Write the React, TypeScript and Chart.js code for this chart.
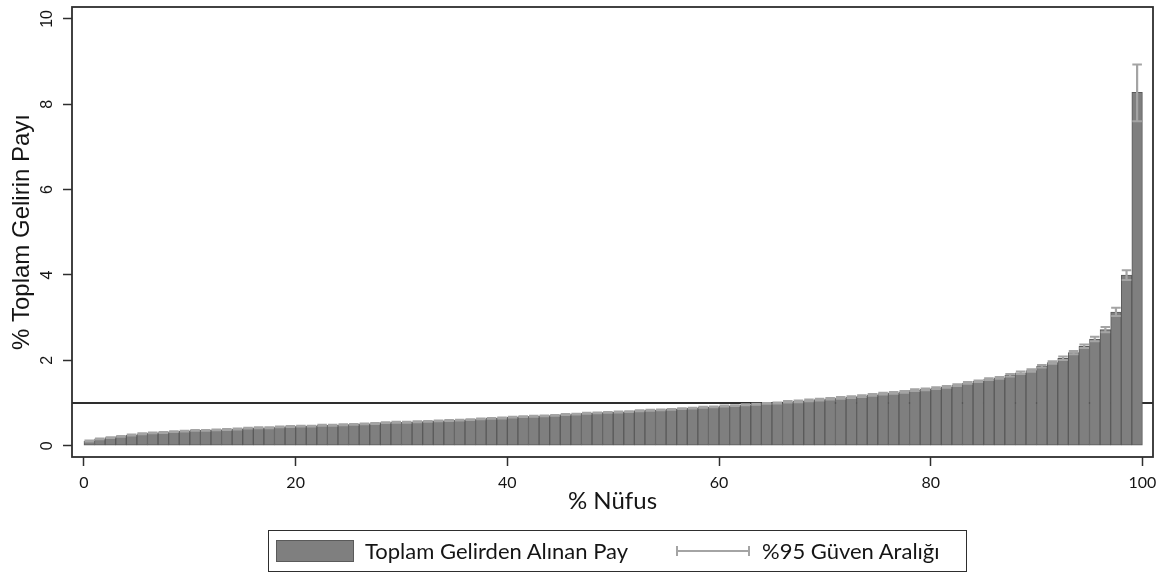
import React, { useEffect, useRef } from "react";
import { Chart, registerables } from "chart.js";

Chart.register(...registerables);

// ---------- data ----------
const percentiles: number[] = Array.from({ length: 100 }, (_, i) => i + 1);

const incomeShare: number[] = [
  0.11, 0.16, 0.19, 0.22, 0.25, 0.28, 0.30, 0.31, 0.33, 0.34,
  0.36, 0.36, 0.37, 0.38, 0.39, 0.41, 0.42, 0.42, 0.44, 0.45,
  0.46, 0.46, 0.48, 0.48, 0.49, 0.50, 0.51, 0.52, 0.54, 0.55,
  0.55, 0.56, 0.57, 0.58, 0.59, 0.60, 0.61, 0.63, 0.64, 0.65,
  0.67, 0.68, 0.69, 0.70, 0.71, 0.73, 0.74, 0.76, 0.77, 0.78,
  0.79, 0.80, 0.82, 0.83, 0.84, 0.85, 0.87, 0.88, 0.90, 0.91,
  0.93, 0.94, 0.96, 0.97, 0.99, 1.00, 1.03, 1.04, 1.06, 1.08,
  1.10, 1.12, 1.14, 1.16, 1.19, 1.22, 1.24, 1.26, 1.30, 1.32,
  1.35, 1.38, 1.42, 1.47, 1.51, 1.56, 1.59, 1.65, 1.71, 1.76,
  1.86, 1.95, 2.05, 2.18, 2.33, 2.50, 2.72, 3.13, 4.00, 8.28,
];

const ciLow: number[] = [
  0.10, 0.15, 0.18, 0.21, 0.24, 0.27, 0.29, 0.30, 0.32, 0.33,
  0.35, 0.35, 0.36, 0.37, 0.38, 0.40, 0.41, 0.41, 0.43, 0.44,
  0.45, 0.45, 0.47, 0.47, 0.48, 0.49, 0.50, 0.51, 0.53, 0.54,
  0.54, 0.55, 0.56, 0.57, 0.58, 0.59, 0.60, 0.62, 0.63, 0.64,
  0.66, 0.67, 0.68, 0.69, 0.70, 0.72, 0.73, 0.75, 0.76, 0.77,
  0.78, 0.79, 0.81, 0.82, 0.83, 0.84, 0.86, 0.87, 0.89, 0.90,
  0.92, 0.93, 0.95, 0.96, 0.98, 0.99, 1.01, 1.02, 1.04, 1.06,
  1.08, 1.10, 1.12, 1.14, 1.17, 1.20, 1.22, 1.24, 1.28, 1.30,
  1.33, 1.36, 1.40, 1.45, 1.49, 1.54, 1.57, 1.62, 1.68, 1.73,
  1.83, 1.92, 2.01, 2.14, 2.29, 2.45, 2.66, 3.04, 3.88, 7.60,
];

const ciHigh: number[] = [
  0.12, 0.17, 0.20, 0.23, 0.26, 0.29, 0.31, 0.32, 0.34, 0.35,
  0.37, 0.37, 0.38, 0.39, 0.40, 0.42, 0.43, 0.43, 0.45, 0.46,
  0.47, 0.47, 0.49, 0.49, 0.50, 0.51, 0.52, 0.53, 0.55, 0.56,
  0.56, 0.57, 0.58, 0.59, 0.60, 0.61, 0.62, 0.64, 0.65, 0.66,
  0.68, 0.69, 0.70, 0.71, 0.72, 0.74, 0.75, 0.77, 0.78, 0.79,
  0.80, 0.81, 0.83, 0.84, 0.85, 0.86, 0.88, 0.89, 0.91, 0.92,
  0.94, 0.95, 0.97, 0.98, 1.00, 1.01, 1.05, 1.06, 1.08, 1.10,
  1.12, 1.14, 1.16, 1.18, 1.21, 1.24, 1.26, 1.28, 1.32, 1.34,
  1.37, 1.40, 1.44, 1.49, 1.53, 1.58, 1.61, 1.68, 1.74, 1.79,
  1.89, 1.98, 2.09, 2.22, 2.37, 2.55, 2.78, 3.23, 4.11, 8.93,
];

const xTickValues: number[] = [0, 20, 40, 60, 80, 100];
const yTickValues: number[] = [0, 2, 4, 6, 8, 10];
const referenceLevel = 1;

const yAxisTitle = "% Toplam Gelirin Payı";
const xAxisTitle = "% Nüfus";
const legendBarLabel = "Toplam Gelirden Alınan Pay";
const legendCiLabel = "%95 Güven Aralığı";

// ---------- styling ----------
const BAR_FILL = "#7f7f7f";
const BAR_EDGE = "#5a5a5a";
const CI_COLOR = "#a4a4a4";
const FRAME = "#2e2e2e";
const TEXT = "#151515";
const SANS_A = '"Liberation Sans", Arial, sans-serif';
const SANS_B = 'Lato, "Open Sans", sans-serif';

const decorPlugin = {
  id: "decor",
  beforeDatasetsDraw(chart: any) {
    const { ctx, chartArea, scales } = chart;
    const py = scales.y.getPixelForValue(referenceLevel);
    ctx.save();
    ctx.strokeStyle = FRAME;
    ctx.lineWidth = 2;
    ctx.beginPath();
    ctx.moveTo(chartArea.left, py);
    ctx.lineTo(chartArea.right, py);
    ctx.stroke();
    ctx.restore();
  },
  afterDatasetsDraw(chart: any) {
    const { ctx, scales } = chart;
    const meta = chart.getDatasetMeta(0);
    ctx.save();
    ctx.strokeStyle = CI_COLOR;
    meta.data.forEach((bar: any, i: number) => {
      const { x, width } = bar.getProps(["x", "width"], true);
      const lo = scales.y.getPixelForValue(ciLow[i]);
      const hi = scales.y.getPixelForValue(ciHigh[i]);
      const half = width / 2 - 0.5;
      ctx.lineWidth = 2.2;
      ctx.beginPath();
      ctx.moveTo(x, lo);
      ctx.lineTo(x, hi);
      ctx.stroke();
      ctx.lineWidth = 2;
      ctx.beginPath();
      ctx.moveTo(x - half, lo);
      ctx.lineTo(x + half, lo);
      ctx.moveTo(x - half, hi);
      ctx.lineTo(x + half, hi);
      ctx.stroke();
    });
    ctx.restore();
  },
  afterDraw(chart: any) {
    const { ctx, chartArea, scales } = chart;
    ctx.save();
    // frame
    ctx.strokeStyle = FRAME;
    ctx.lineWidth = 1.8;
    ctx.strokeRect(
      chartArea.left,
      chartArea.top,
      chartArea.right - chartArea.left,
      chartArea.bottom - chartArea.top
    );
    ctx.fillStyle = TEXT;
    // x tick labels
    ctx.font = `16px ${SANS_B}`;
    ctx.textAlign = "center";
    ctx.textBaseline = "middle";
    xTickValues.forEach((v) => {
      ctx.fillText(String(v), scales.x.getPixelForValue(v), 483);
    });
    // y tick labels (rotated)
    ctx.font = `16px ${SANS_A}`;
    yTickValues.forEach((v) => {
      const py = scales.y.getPixelForValue(v);
      ctx.save();
      ctx.translate(48, py);
      ctx.rotate(-Math.PI / 2);
      ctx.fillText(String(v), 0, 0);
      ctx.restore();
    });
    // axis titles
    ctx.font = `24px ${SANS_B}`;
    ctx.fillText(xAxisTitle, (chartArea.left + chartArea.right) / 2, 501);
    ctx.save();
    ctx.font = `24px ${SANS_A}`;
    ctx.translate(22, (chartArea.top + chartArea.bottom) / 2);
    ctx.rotate(-Math.PI / 2);
    ctx.fillText(yAxisTitle, 0, 0);
    ctx.restore();
    ctx.restore();
  },
};

export default function App() {
  const canvasRef = useRef<HTMLCanvasElement>(null);

  useEffect(() => {
    const canvas = canvasRef.current;
    if (!canvas) return;
    const chart = new Chart(canvas, {
      type: "bar",
      data: {
        datasets: [
          {
            label: legendBarLabel,
            data: percentiles.map((p, i) => ({ x: p - 0.5, y: incomeShare[i] })) as any,
            backgroundColor: BAR_FILL,
            borderColor: BAR_EDGE,
            borderWidth: 1,
            borderSkipped: false,
            barPercentage: 1,
            categoryPercentage: 1,
          },
        ],
      },
      options: {
        responsive: false,
        animation: false,
        devicePixelRatio: 1,
        layout: { padding: { left: 0, top: 7, right: 5, bottom: 0 } },
        plugins: {
          legend: { display: false },
          tooltip: { enabled: false },
        },
        scales: {
          x: {
            type: "linear",
            min: -1.13,
            max: 101.0,
            offset: false,
            afterBuildTicks: (s: any) => {
              s.ticks = xTickValues.map((v) => ({ value: v }));
            },
            afterFit: (s: any) => {
              s.height = 117;
            },
            ticks: { display: false },
            grid: {
              offset: false,
              drawOnChartArea: false,
              drawTicks: true,
              tickLength: 9,
              tickColor: FRAME,
              tickWidth: 1.5,
            },
            border: { display: false },
          },
          y: {
            type: "linear",
            min: -0.265,
            max: 10.28,
            afterBuildTicks: (s: any) => {
              s.ticks = yTickValues.map((v) => ({ value: v }));
            },
            afterFit: (s: any) => {
              s.width = 72;
            },
            ticks: { display: false },
            grid: {
              drawOnChartArea: false,
              drawTicks: true,
              tickLength: 9,
              tickColor: FRAME,
              tickWidth: 1.5,
            },
            border: { display: false },
          },
        },
      } as any,
      plugins: [decorPlugin],
    });
    return () => chart.destroy();
  }, []);

  return (
    <div
      style={{
        position: "fixed",
        left: 0,
        top: 0,
        width: 1158,
        height: 574,
        background: "#ffffff",
        overflow: "hidden",
      }}
    >
      <canvas
        ref={canvasRef}
        width={1158}
        height={574}
        style={{ position: "absolute", left: 0, top: 0, width: 1158, height: 574 }}
      />
      <div
        style={{
          position: "absolute",
          left: 268,
          top: 530,
          width: 699,
          height: 42,
          boxSizing: "border-box",
          border: `1px solid ${FRAME}`,
          fontFamily: SANS_B,
          fontSize: 22,
          color: TEXT,
        }}
      >
        <div
          style={{
            position: "absolute",
            left: 7,
            top: 9,
            width: 78,
            height: 22,
            boxSizing: "border-box",
            background: BAR_FILL,
            border: `1.5px solid ${BAR_EDGE}`,
          }}
        />
        <span style={{ position: "absolute", left: 96, top: 0, lineHeight: "40px", whiteSpace: "nowrap" }}>
          {legendBarLabel}
        </span>
        <div style={{ position: "absolute", left: 407, top: 15, width: 74, height: 10 }}>
          <div style={{ position: "absolute", left: 0, top: 4, width: 74, height: 2, background: CI_COLOR }} />
          <div style={{ position: "absolute", left: 0, top: 0, width: 2, height: 10, background: CI_COLOR }} />
          <div style={{ position: "absolute", left: 72, top: 0, width: 2, height: 10, background: CI_COLOR }} />
        </div>
        <span style={{ position: "absolute", left: 493, top: 0, lineHeight: "40px", whiteSpace: "nowrap" }}>
          {legendCiLabel}
        </span>
      </div>
    </div>
  );
}
